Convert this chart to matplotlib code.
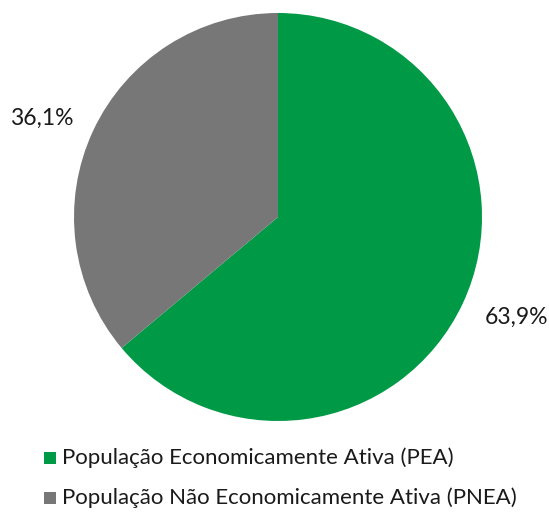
import matplotlib
matplotlib.use("Agg")
import matplotlib.pyplot as plt
from matplotlib.patches import Rectangle

categories = ["População Economicamente Ativa (PEA)",
              "População Não Economicamente Ativa (PNEA)"]
values = [63.9, 36.1]
colors = ["#009A46", "#777777"]

plt.rcParams["font.family"] = ["Lato", "DejaVu Sans"]

W, H = 549, 512
fig = plt.figure(figsize=(W / 100, H / 100), dpi=100)

cx, cy, r = 278, 217, 204
ax = fig.add_axes([(cx - r) / W, (H - cy - r) / H, 2 * r / W, 2 * r / H])
ax.pie(values, colors=colors, startangle=90, counterclock=False,
       radius=1, wedgeprops=dict(linewidth=0))
ax.set_xlim(-1, 1)
ax.set_ylim(-1, 1)
ax.set_aspect("equal")
ax.axis("off")

def pct(v):
    return f"{v:.1f}".replace(".", ",") + "%"

text_color = "#1a1a1a"
fig.text(516 / W, 1 - 317 / H, pct(values[0]), ha="center", va="center",
         fontsize=16.5, color=text_color)
fig.text(42 / W, 1 - 118 / H, pct(values[1]), ha="center", va="center",
         fontsize=16.5, color=text_color)

# legend drawn as colour squares with labels
rows_y = [458, 498]
for label, color, y in zip(categories, colors, rows_y):
    fig.patches.append(Rectangle((44 / W, 1 - (y + 6) / H), 12 / W, 12 / H,
                                 transform=fig.transFigure, facecolor=color,
                                 edgecolor="none"))
    fig.text(62 / W, 1 - y / H, label, ha="left", va="center",
             fontsize=16, color=text_color)

fig.savefig("out.png", dpi=100)
